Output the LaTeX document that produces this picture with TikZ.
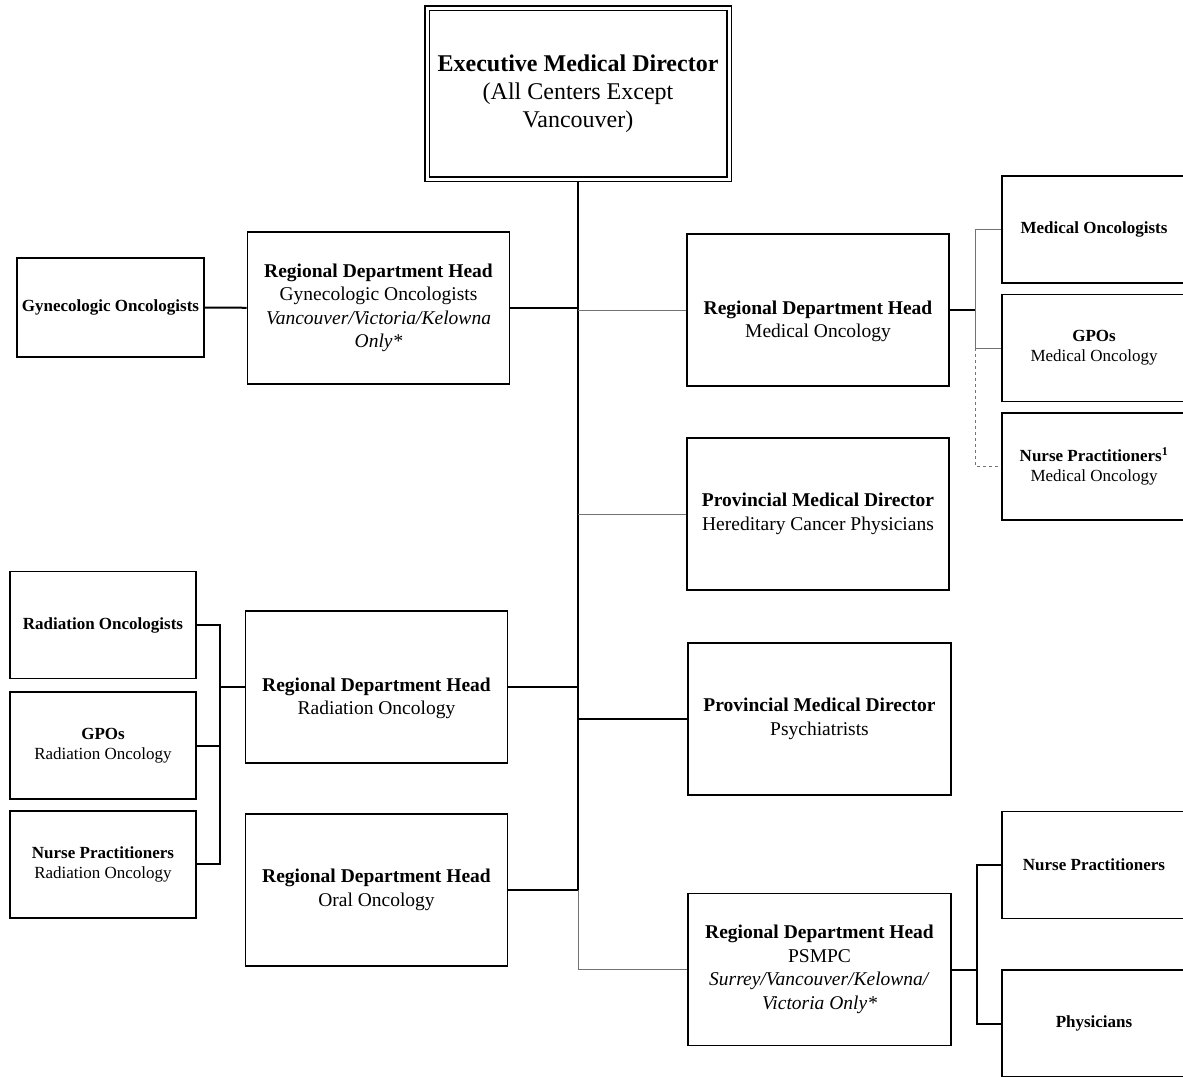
\documentclass[tikz,border=0pt]{standalone}
\usepackage{fontspec}
\setmainfont{Liberation Serif}
\usetikzlibrary{positioning}
\tikzset{%
  % Specifications for style of boxes:
          base/.style = {rectangle, draw=black, line width=1.6pt,
                         align=center, inner sep=2pt},
        topbox/.style = {base, line width=1.3pt, double, double distance=3pt,
                         outer sep=2.8pt, minimum width=302pt, minimum height=171pt,
                         font=\fontsize{24}{28}\selectfont},
       headbox/.style = {base, minimum width=262pt, minimum height=152pt,
                         font=\fontsize{19.5}{23.5}\selectfont},
       lowhead/.style = {headbox, text height=60pt}, % text sits lower in the box
       unitbox/.style = {base, minimum width=184pt, minimum height=107pt,
                         font=\fontsize{17}{20}\selectfont},
  % connectors
          link/.style = {line width=2pt},
         faint/.style = {line width=1pt, draw=black!55},
}

\begin{document}
\begin{tikzpicture}[x=1pt, y=-1pt]
  \useasboundingbox (0,0) rectangle (1183,1076);
  \clip (0,0) rectangle (1183,1076);

  % top of the chart
  \node (exec) [topbox] at (578,93.5) {\textbf{Executive Medical Director}\\(All Centers Except\\Vancouver)};

  % heads left of the trunk
  \node (gynhead) [headbox] at (378.5,308) {\textbf{Regional Department Head}\\Gynecologic Oncologists\\\textit{Vancouver/Victoria/Kelowna}\\\textit{Only*}};
  \node (radhead) [lowhead] at (376.5,687) {\textbf{Regional Department Head}\\Radiation Oncology};
  \node (oral)    [headbox] at (376.5,890) {\textbf{Regional Department Head}\\Oral Oncology};

  % heads right of the trunk
  \node (medhead) [lowhead] at (818,310) {\textbf{Regional Department Head}\\Medical Oncology};
  \node (hered)   [headbox] at (818,514) {\textbf{Provincial Medical Director}\\Hereditary Cancer Physicians};
  \node (psych)   [headbox, minimum width=263pt] at (819.5,719) {\textbf{Provincial Medical Director}\\Psychiatrists};
  \node (psmpc)   [headbox, minimum width=263pt] at (819.5,969.5) {\textbf{Regional Department Head}\\PSMPC\\\textit{Surrey/Vancouver/Kelowna/}\\\textit{Victoria Only*}};

  % units
  \node (gynonc) [unitbox, minimum width=187pt, minimum height=99pt] at (110.5,307.5) {\textbf{Gynecologic Oncologists}};

  \node (medonc) [unitbox] at (1094,229.5) {\textbf{Medical Oncologists}};
  \node (medgpo) [unitbox, below=10pt of medonc] {\textbf{GPOs}\\Medical Oncology};
  \node (mednp)  [unitbox, below=10pt of medgpo] {\textbf{Nurse Practitioners\textsuperscript{1}}\\Medical Oncology};

  \node (radonc) [unitbox, minimum width=186pt] at (103,625) {\textbf{Radiation Oncologists}};
  \node (radgpo) [unitbox, minimum width=186pt, below=12pt of radonc] {\textbf{GPOs}\\Radiation Oncology};
  \node (radnp)  [unitbox, minimum width=186pt, below=10pt of radgpo] {\textbf{Nurse Practitioners}\\Radiation Oncology};

  \node (psmpcnp)   [unitbox] at (1094,865) {\textbf{Nurse Practitioners}};
  \node (psmpcphys) [unitbox] at (1094,1023.5) {\textbf{Physicians}};

  % trunk
  \draw[link]  (exec.south) |- (oral.east);
  \draw[faint] (exec.south |- oral.east) |- (psmpc.west);
  \draw[link]  (gynhead.east) -- (exec.south |- gynhead.east);
  \draw[faint] (exec.south |- medhead.west) -- (medhead.west);
  \draw[faint] (exec.south |- hered.west) -- (hered.west);
  \draw[link]  (radhead.east) -- (exec.south |- radhead.east);
  \draw[link]  (exec.south |- psych.west) -- (psych.west);

  \draw[link] (gynonc) -- (gynhead);

  % medical oncology
  \coordinate [right=26pt of medhead.east] (medbus);
  \draw[link] (medhead.east) -- (medbus);
  \draw[faint] (medonc.west) -| (medbus |- medgpo.west) -- (medgpo.west);
  \draw[faint, dashed] (medbus |- medgpo.west) |- (mednp.west);

  % radiation oncology
  \coordinate [left=25pt of radhead.west] (radbus);
  \draw[link] (radhead.west) -- (radbus);
  \draw[link] (radonc.east) -| (radbus |- radnp.east) -- (radnp.east);
  \draw[link] (radbus |- radgpo.east) -- (radgpo.east);

  % psmpc
  \coordinate [right=25pt of psmpc.east] (psmpcbus);
  \draw[link] (psmpc.east) -- (psmpcbus);
  \draw[link] (psmpcnp.west) -| (psmpcbus |- psmpcphys.west) -- (psmpcphys.west);
\end{tikzpicture}
\end{document}
